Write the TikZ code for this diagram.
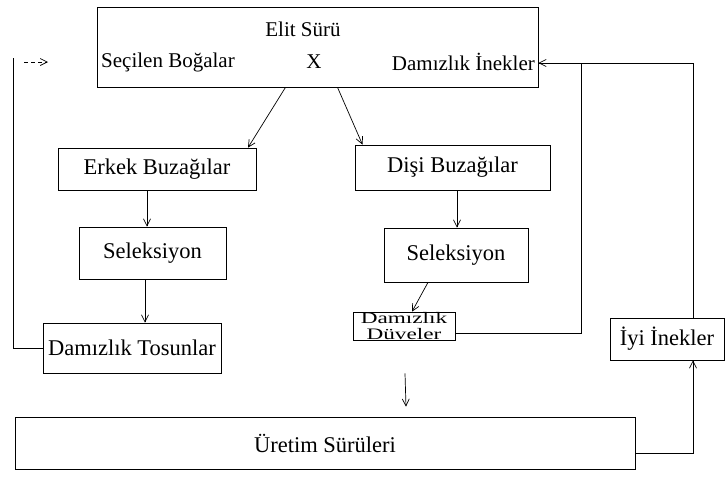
\documentclass[tikz,border=0pt]{standalone}
\usepackage{fontspec}
\setmainfont{Liberation Serif}
\usetikzlibrary{arrows.meta,calc}
\begin{document}
\begin{tikzpicture}[x=1pt,y=-1pt,
  box/.style={draw, line width=0.7pt, inner sep=0pt, font=\fontsize{22.5}{26}\selectfont},
  lbl/.style={inner sep=0pt, font=\fontsize{21}{24}\selectfont},
  conn/.style={draw, line width=0.7pt},
  arr/.style={conn, -{Straight Barb[length=7pt,width=7pt]}}]
\useasboundingbox (0,0) rectangle (726,477);
% top box
\node[box, minimum width=441, minimum height=80] (elit) at (317.5,47) {};
\node[lbl] (elitt) at (303,29) {Elit Sürü};
\node[lbl, anchor=west] (bogalar) at (101,62) {Seçilen Boğalar};
\node[lbl] (xx) at (314,62) {X};
\node[lbl, anchor=east] (inek) at (535,62) {Damızlık İnekler};
% other boxes
\node[box, minimum width=198, minimum height=42] (erkek) at (157,169) {Erkek Buzağılar};
\node[box, minimum width=147, minimum height=52] (selL) at (152.5,253) {Seleksiyon};
\node[box, minimum width=195, minimum height=45] (disi) at (452.5,167.5) {Dişi Buzağılar};
\node[box, minimum width=144, minimum height=54] (selR) at (456,255) {Seleksiyon};
\node[box, minimum width=178, minimum height=50] (tosun) at (132,348) {Damızlık Tosunlar};
\node[box, minimum width=102, minimum height=28, align=center,
      font=\fontsize{16}{16.5}\selectfont] (duv) at (404,326)
      {\scalebox{1.45}[1]{Damızlık}\\\scalebox{1.45}[1]{Düveler}};
\node[box, minimum width=114, minimum height=42] (iyi) at (667,339) {İyi İnekler};
\node[box, minimum width=620, minimum height=52] (uretim) at (325,443) {Üretim Sürüleri};
% coordinates
\coordinate (jn) at (581,63);
\coordinate (lt) at (13,58);
\coordinate (a1) at (24,62);
\coordinate (a2) at (48,62);
% connectors
\draw[arr] ($(elit.south)+(-32,0)$) -- ($(erkek.north)+(91,0)$);
\draw[arr] ($(elit.south)+(20,0)$) -- ($(disi.north)+(-90,0)$);
\draw[arr] ($(erkek.south)+(-10,0)$) -- ($(selL.north)+(-5.5,0)$);
\draw[arr] ($(selL.south)+(-7.5,0)$) -- ($(tosun.north)+(13,0)$);
\draw[arr] ($(disi.south)+(4.5,0)$) -- ($(selR.north)+(1,0)$);
\draw[arr] ($(selR.south)+(-28,0)$) -- ($(duv.north)+(8,0)$);
\draw[arr] ($(duv.south)+(1,33)$) -- ($(uretim.north)+(81,-10)$);
\draw[conn] ($(duv.east)+(0,7)$) -| (jn);
\draw[conn] ($(iyi.north)+(26,0)$) |- (jn);
\draw[arr] (jn) -- (elit.east |- jn);
\draw[arr] ($(uretim.east)+(0,10)$) -| ($(iyi.south)+(26,0)$);
\draw[conn] (tosun.west) -| (lt);
\draw[arr, dash pattern=on 4pt off 3pt] (a1) -- (a2);
\end{tikzpicture}
\end{document}
